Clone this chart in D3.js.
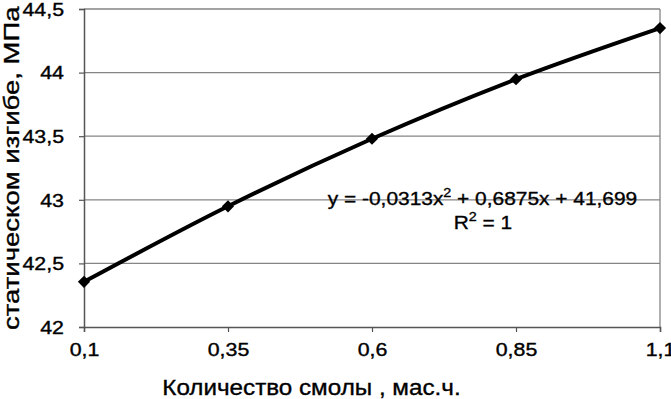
<!DOCTYPE html>
<html><head><meta charset="utf-8">
<script src="https://cdn.jsdelivr.net/npm/d3@7"></script>
<style>body{margin:0;background:#fff}svg{display:block}text{font-family:"Liberation Sans",Arial,sans-serif;fill:#000;stroke:#000;stroke-width:0.35px}</style>
</head><body>
<script>
const categories = ["0,1","0,35","0,6","0,85","1,1"];
const values = [42.355, 42.949, 43.48, 43.948, 44.35];
const yTicks = [42, 42.5, 43, 43.5, 44, 44.5];
const yTickLabels = ["42","42,5","43","43,5","44","44,5"];
const xTitle = "Количество смолы , мас.ч.";
const yTitle = "статическом изгибе, МПа";
const eqText = "y = -0,0313x";
const eqText2 = " + 0,6875x + 41,699";

const W = 671, H = 399;
const m = {left:84, right:11, top:9, bottom:72};
const svg = d3.select("body").append("svg").attr("width",W).attr("height",H);

function stretch(sel, f){
  sel.each(function(){
    const w = this.getComputedTextLength();
    d3.select(this).attr("textLength", w*f).attr("lengthAdjust","spacingAndGlyphs");
  });
}

const x = d3.scalePoint().domain(categories).range([m.left, W-m.right]).padding(0);
const y = d3.scaleLinear().domain([42,44.5]).range([H-m.bottom, m.top]);

// gridlines
svg.append("g").selectAll("line").data(yTicks.slice(1)).join("line")
  .attr("x1",m.left).attr("x2",W-m.right)
  .attr("y1",d=>y(d)).attr("y2",d=>y(d))
  .attr("stroke","#858585").attr("stroke-width",1.3);
// right border
svg.append("line").attr("x1",W-m.right).attr("x2",W-m.right)
  .attr("y1",m.top).attr("y2",H-m.bottom).attr("stroke","#858585").attr("stroke-width",1.3);

// y axis
const yAxis = d3.axisLeft(y).tickValues(yTicks).tickFormat((d,i)=>yTickLabels[i]).tickSize(5).tickPadding(15);
const gy = svg.append("g").attr("transform",`translate(${m.left},0)`).call(yAxis);
gy.select(".domain").attr("stroke","#555").attr("stroke-width",1.5);
gy.selectAll(".tick line").attr("stroke","#555").attr("stroke-width",1.2);
gy.selectAll(".tick text").attr("font-size",17.5).attr("font-family","Liberation Sans, Arial").attr("fill","#000").attr("dy","0.36em").call(stretch,1.22);

// x axis
const xAxis = d3.axisBottom(x).tickSize(5).tickPadding(12);
const gx = svg.append("g").attr("transform",`translate(0,${H-m.bottom})`).call(xAxis);
gx.select(".domain").attr("stroke","#555").attr("stroke-width",1.5);
gx.selectAll(".tick line").attr("stroke","#555").attr("stroke-width",1.2);
gx.selectAll(".tick text").attr("font-size",17.5).attr("font-family","Liberation Sans, Arial").attr("fill","#000").call(stretch,1.22);

// line
const line = d3.line().x((d,i)=>x(categories[i])).y(d=>y(d)).curve(d3.curveCardinal.tension(0));
svg.append("path").datum(values).attr("d",line).attr("fill","none")
  .attr("stroke","#000").attr("stroke-width",4).attr("stroke-linejoin","round");
// markers
svg.append("g").selectAll("path").data(values).join("path")
  .attr("d",d3.symbol(d3.symbolDiamond2,95))
  .attr("transform",(d,i)=>`translate(${x(categories[i])},${y(d)})`)
  .attr("fill","#000");

// equation
const eq = svg.append("text").attr("x",482.5).attr("y",205).attr("text-anchor","middle").attr("font-size",19);
eq.append("tspan").text(eqText);
eq.append("tspan").attr("font-size",13).attr("dy",-8).text("2");
eq.append("tspan").attr("dy",8).text(eqText2);
stretch(eq,1.1);
const r2 = svg.append("text").attr("x",483).attr("y",229).attr("text-anchor","middle").attr("font-size",19);
r2.append("tspan").text("R");
r2.append("tspan").attr("font-size",13).attr("dy",-8).text("2");
r2.append("tspan").attr("dy",8).text(" = 1");
stretch(r2,1.1);

// titles
svg.append("text").attr("x",311.5).attr("y",395).attr("text-anchor","middle").attr("font-size",22).text(xTitle).call(stretch,1.1);
svg.append("text").attr("transform",`translate(19,330) rotate(-90)`).attr("font-size",22).text(yTitle).call(stretch,1.25);
</script>
</body></html>
